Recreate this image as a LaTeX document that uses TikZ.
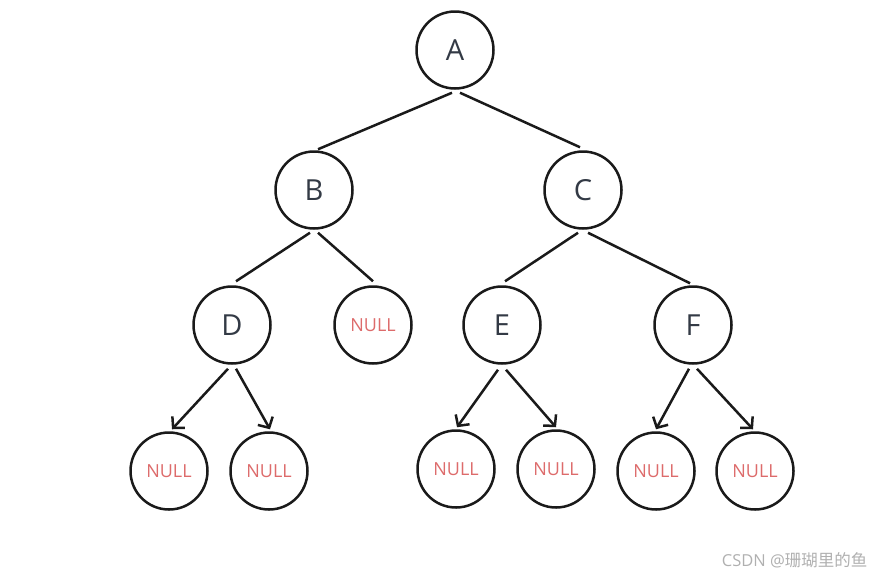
\documentclass[tikz,border=0pt]{standalone}
\usepackage{fontspec}
\setmainfont{Open Sans}
\newfontfamily\cjkfont{Noto Sans CJK SC}
\usetikzlibrary{arrows.meta}
\definecolor{treeInk}{HTML}{1a1a1a}
\definecolor{treeText}{HTML}{333a45}
\definecolor{treeNull}{HTML}{dd6b6b}
\definecolor{treeMark}{HTML}{b0b0b0}

\begin{document}
\begin{tikzpicture}[x=1pt, y=-1pt,
        nd/.style={circle, draw=treeInk, line width=2.5pt, minimum size=77pt, inner sep=0pt, text=treeText, font=\fontsize{29}{31}\selectfont},
        nul/.style={nd, text=treeNull, font=\fontsize{18}{20}\selectfont},
        edge/.style={treeInk, line width=2.5pt},
        arr/.style={edge, -{Straight Barb[length=8pt, width=17pt, line width=2.5pt]}}]
        \useasboundingbox (0,0) rectangle (874,576);
        % level 0-1
        \node[nd] (a) at (455,50) {A};
        \node[nd] (b) at (314,190) {B};
        \node[nd] (c) at (583,190) {C};
        % level 2
        \node[nd] (d) at (232,325) {D};
        \node[nul] (bn) at (373,325) {NULL};
        \node[nd] (e) at (502,325) {E};
        \node[nd] (f) at (693,325) {F};
        % level 3
        \node[nul] (dl) at (169,471) {NULL};
        \node[nul] (dr) at (269,471) {NULL};
        \node[nul] (el) at (456,469) {NULL};
        \node[nul] (er) at (556,469) {NULL};
        \node[nul] (fl) at (656,471) {NULL};
        \node[nul] (fr) at (755,471) {NULL};
        \draw[edge] ([xshift=-3pt, yshift=-3pt]a.south) -- ([xshift=4pt, yshift=1pt]b.north);
        \draw[edge] ([xshift=5pt, yshift=-3pt]a.south) -- ([xshift=-3pt, yshift=3pt]c.north);
        \draw[edge] ([xshift=-4pt, yshift=-3pt]b.south) -- ([xshift=4pt, yshift=4pt]d.north);
        \draw[edge] ([xshift=4pt, yshift=-3pt]b.south) -- ([yshift=4pt]bn.north);
        \draw[edge] ([xshift=-5pt, yshift=-3pt]c.south) -- ([xshift=3pt, yshift=4pt]e.north);
        \draw[edge] ([xshift=5pt, yshift=-3pt]c.south) -- ([xshift=-3pt, yshift=2pt]f.north);
        \draw[arr] ([xshift=-4pt, yshift=-4pt]d.south) -- ([xshift=3pt, yshift=2pt]dl.north);
        \draw[arr] ([xshift=4pt, yshift=-4pt]d.south) -- ([xshift=1pt, yshift=2pt]dr.north);
        \draw[arr] ([xshift=-4pt, yshift=-5pt]e.south) -- ([xshift=1pt, yshift=2pt]el.north);
        \draw[arr] ([xshift=4pt, yshift=-5pt]e.south) -- ([yshift=2pt]er.north);
        \draw[arr] ([xshift=-4pt, yshift=-4pt]f.south) -- ([yshift=2pt]fl.north);
        \draw[arr] ([xshift=4pt, yshift=-4pt]f.south) -- ([xshift=-2pt, yshift=2pt]fr.north);
        \node[anchor=east, text=treeMark, font=\fontsize{16.5}{18}\selectfont] (mark) at (871,560) {CSDN @{\cjkfont 珊瑚里的鱼}};
\end{tikzpicture}
\end{document}
